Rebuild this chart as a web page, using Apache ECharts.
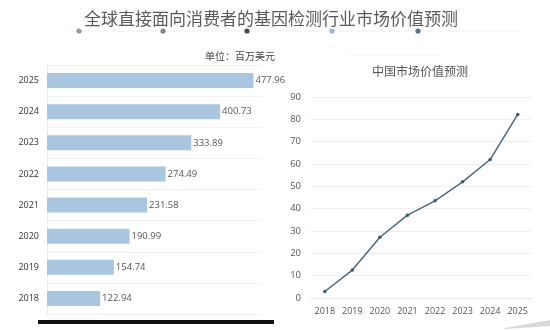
<!DOCTYPE html>
<html>
<head>
<meta charset="utf-8">
<script src="https://cdn.jsdelivr.net/npm/echarts@6/dist/echarts.min.js"></script>
<style>
html,body{margin:0;padding:0;background:#fff;}
#c{width:550px;height:330px;}
</style>
</head>
<body>
<div id="c"></div>
<script>
// ---- data ----
const barYears = ['2018','2019','2020','2021','2022','2023','2024','2025'];
const globalValues = [122.94, 154.74, 190.99, 231.58, 274.49, 333.89, 400.73, 477.96];
const lineYears = ['2018','2019','2020','2021','2022','2023','2024','2025'];
const chinaValues = [2.9, 12.5, 27.2, 37.1, 43.5, 52.0, 62.0, 82.2];
const chinaTicks = [0,10,20,30,40,50,60,70,80,90];

const mainTitle = '全球直接面向消费者的基因检测行业市场价值预测';
const unitText = '单位：百万美元';
const rightTitle = '中国市场价值预测';

const cjk = '"Noto Sans CJK SC", "Noto Sans", sans-serif';
const num = '"Open Sans", "Liberation Sans", sans-serif';

const chart = echarts.init(document.getElementById('c'), null, {renderer:'canvas'});

const dotColors = ['#9a9a9a','#858585','#4a4a4a','#9fb3cc','#4f7596'];
const dotX = [79,163,247,332,418];

chart.setOption({
  backgroundColor:'#fff',
  animation:false,
  title:[
    {text: mainTitle, left: 266, top: 5, textAlign:'center',
     textStyle:{fontFamily:cjk, fontSize:17, fontWeight:'normal', color:'#5a5a5a'}},
    {text: unitText, left: 235, top: 46, textAlign:'center',
     textStyle:{fontFamily:cjk, fontSize:10, fontWeight:'normal', color:'#444'}},
    {text: rightTitle, left: 415, top: 60, textAlign:'center',
     textStyle:{fontFamily:cjk, fontSize:12, fontWeight:'normal', color:'#555'}}
  ],
  graphic: [
    {type:'line', shape:{x1:70,y1:31,x2:520,y2:31}, style:{stroke:'#f0f0f0', lineWidth:1}, silent:true},
    ...dotX.map((x,i)=>({type:'circle', shape:{cx:x, cy:31, r:2.6}, style:{fill:dotColors[i]}, silent:true})),
    {type:'line', shape:{x1:350,y1:55,x2:440,y2:55}, style:{stroke:'#f2f2f2', lineWidth:1}, silent:true},
    {type:'rect', shape:{x:38,y:320,width:236,height:4}, style:{fill:'#111'}, silent:true},
    {type:'polygon', shape:{points:[[505,328],[550,320],[550,326],[505,329]]}, style:{fill:'#d8d8d8'}, silent:true}
  ],
  grid:[
    {left:47, top:65, width:216, height:249},
    {left:311, top:97, width:220.5, height:201}
  ],
  xAxis:[
    {gridIndex:0, type:'value', min:0, max:500, show:false},
    {gridIndex:1, type:'category', data:lineYears, boundaryGap:true,
     axisLine:{show:true, lineStyle:{color:'#e6e6e6'}}, axisTick:{show:false},
     axisLabel:{fontFamily:num, fontSize:9, color:'#555', margin:9, interval:0}}
  ],
  yAxis:[
    {gridIndex:0, type:'category', data:barYears,
     axisLine:{show:true, lineStyle:{color:'#f3e9e2'}}, axisTick:{show:false},
     splitLine:{show:true, lineStyle:{color:'#f3f3f3'}},
     axisLabel:{fontFamily:num, fontSize:9, color:'#333', margin:8}},
    {gridIndex:1, type:'value', min:0, max:90, interval:10,
     axisLine:{show:false}, axisTick:{show:false},
     splitLine:{lineStyle:{color:'#f0f0f0'}},
     axisLabel:{fontFamily:num, fontSize:9.5, color:'#555', margin:10}}
  ],
  series:[
    {type:'bar', xAxisIndex:0, yAxisIndex:0, data:globalValues, barWidth:15,
     itemStyle:{color:'#a9c5e0'},
     label:{show:true, position:'right', distance:2, fontFamily:num, fontSize:9.5, color:'#555'}},
    {type:'line', xAxisIndex:1, yAxisIndex:1, data:chinaValues,
     symbol:'circle', symbolSize:3.5,
     lineStyle:{color:'#4d6a7c', width:1.5}, itemStyle:{color:'#3e5a6c'}}
  ]
});
</script>
</body>
</html>
